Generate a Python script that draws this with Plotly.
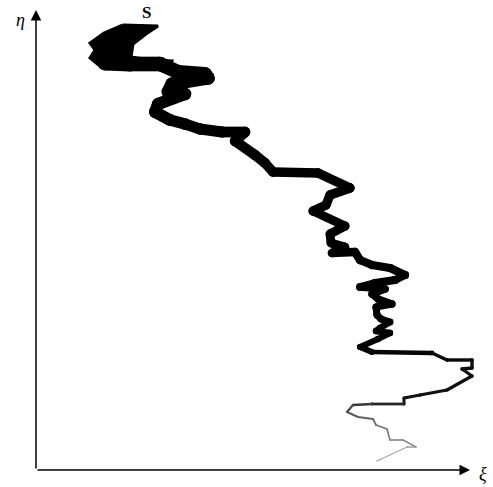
import plotly.graph_objects as go
import numpy as np

# Thick starting blob near S (outline)
blob_xi = [123, 158, 146, 133, 131, 150, 172, 170, 120, 100, 90, 95, 90, 104]
blob_px = [25, 26, 34, 44, 57, 60, 61, 69, 69, 66, 58, 50, 43, 33]

# Path of the walk (xi, eta)
xi = [105,130,160,178,205,208,172,168,185,158,155,170,185,200,222,245,235,255,265,273,318,350,330,326,313,345,330,331,345,332,355,360,372,390,405,395,375,360,385,372,378,392,376,377,381,390,380,376,390,378,360,372,432,447,472,472,462,472,447,420,404,404,372,353,347,358,373,376,387,390,403,416,407,377]
eta_px = [63,64,64,72,74,78,84,92,94,104,112,120,124,129,132,132,141,155,163,172,173,188,195,205,211,226,234,243,247,253,252,260,265,268,275,280,283,287,289,294,299,304,307,315,319,322,328,331,333,339,347,352,353,360,360,368,369,376,390,395,398,404,404,405,412,417,419,425,429,440,440,447,447,461]
eta = [487 - v for v in eta_px]
blob_eta = [487 - v for v in blob_px]

# stroke width anchors (by point index) and grey level
w_idx = [0, 3, 9, 19, 34, 50, 52, 60, 64, 70, 73]
w_val = [15, 14, 12, 9.5, 8, 6, 3.5, 3, 2, 1.5, 1.2]
g_val = [0, 0, 0, 0, 0, 0, 10, 20, 90, 140, 180]

fig = go.Figure()
fig.add_trace(go.Scatter(x=blob_xi + [blob_xi[0]], y=blob_eta + [blob_eta[0]], mode="lines",
                         fill="toself", fillcolor="black", line=dict(color="black", width=3),
                         hoverinfo="skip", showlegend=False))
n = len(xi)
for i in range(n - 1):
    w = float(np.interp(i, w_idx, w_val))
    g = int(np.interp(i, w_idx, g_val))
    col = f"rgb({g},{g},{g})"
    fig.add_trace(go.Scatter(x=[xi[i], xi[i+1]], y=[eta[i], eta[i+1]], mode="lines",
                             line=dict(color=col, width=w), hoverinfo="skip", showlegend=False))
    fig.add_trace(go.Scatter(x=[xi[i], xi[i+1]], y=[eta[i], eta[i+1]], mode="markers",
                             marker=dict(color=col, size=w, line=dict(width=0)),
                             hoverinfo="skip", showlegend=False))

# axes with arrows
ax0x, ax0y = 36, 487 - 470
fig.add_annotation(x=470, y=ax0y, ax=ax0x, ay=ax0y, xref="x", yref="y", axref="x", ayref="y",
                   showarrow=True, arrowhead=2, arrowsize=1.4, arrowwidth=1.5, arrowcolor="black", text="")
fig.add_annotation(x=ax0x, y=487 - 10, ax=ax0x, ay=ax0y, xref="x", yref="y", axref="x", ayref="y",
                   showarrow=True, arrowhead=2, arrowsize=1.4, arrowwidth=1.5, arrowcolor="black", text="")

serif = "Liberation Serif, DejaVu Serif, serif"
fig.add_annotation(x=20, y=487 - 20, text="<i>η</i>", showarrow=False, font=dict(family=serif, size=18, color="black"))
fig.add_annotation(x=483, y=487 - 474, text="<i>ξ</i>", showarrow=False, font=dict(family=serif, size=18, color="black"))
fig.add_annotation(x=146, y=487 - 12, text="<b>S</b>", showarrow=False, font=dict(family=serif, size=17, color="black"))

fig.update_layout(width=493, height=487, margin=dict(l=0, r=0, t=0, b=0),
                  paper_bgcolor="white", plot_bgcolor="white",
                  xaxis=dict(range=[0, 493], visible=False, fixedrange=True),
                  yaxis=dict(range=[0, 487], visible=False, fixedrange=True))
fig.write_html("out.html", config={"displayModeBar": False},
               post_script="document.body.style.margin='0px';document.body.style.overflow='hidden';")
